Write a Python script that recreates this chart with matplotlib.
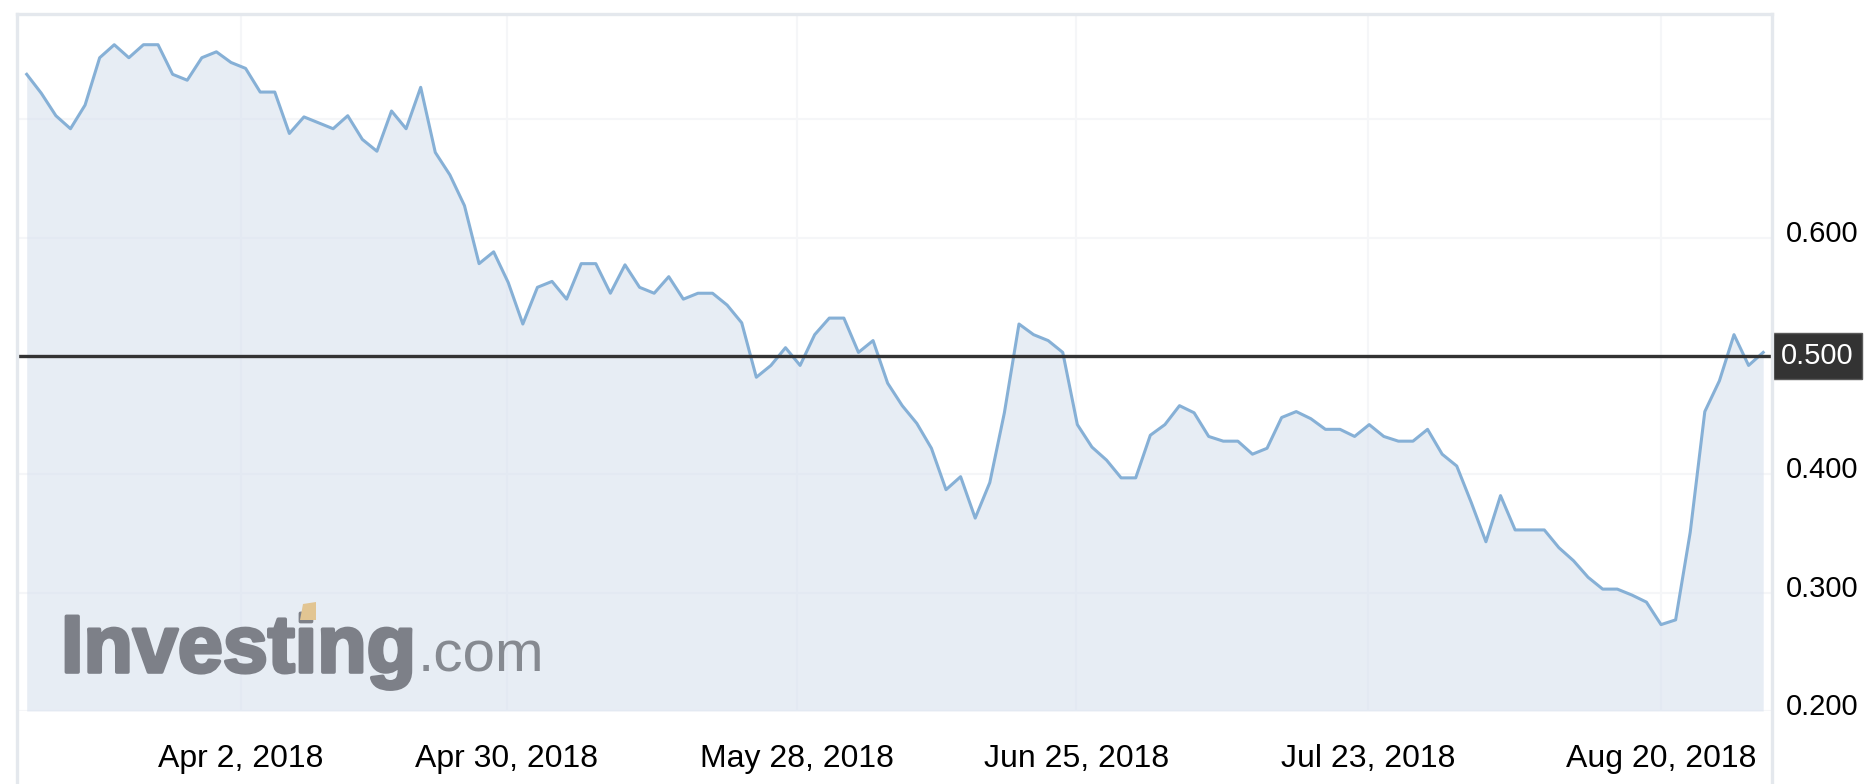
import numpy as np
import matplotlib
matplotlib.use("Agg")
import matplotlib.pyplot as plt
import matplotlib.transforms as mtransforms
import matplotlib.patheffects as pe
from matplotlib.lines import Line2D
from matplotlib.patches import Polygon

# ---------------- data ----------------
prices = [
    0.738, 0.722, 0.703, 0.692, 0.712, 0.752, 0.763, 0.752, 0.763, 0.763,
    0.738, 0.733, 0.752, 0.757, 0.748, 0.743, 0.723, 0.723, 0.688, 0.702,
    0.697, 0.692, 0.703, 0.683, 0.673, 0.707, 0.692, 0.727, 0.672, 0.653,
    0.627, 0.578, 0.588, 0.562, 0.527, 0.558, 0.563, 0.548, 0.578, 0.578,
    0.553, 0.577, 0.558, 0.553, 0.567, 0.548, 0.553, 0.553, 0.543, 0.528,
    0.482, 0.492, 0.507, 0.492, 0.518, 0.532, 0.532, 0.503, 0.513, 0.477,
    0.458, 0.443, 0.422, 0.387, 0.398, 0.363, 0.393, 0.452, 0.527, 0.518,
    0.513, 0.503, 0.442, 0.423, 0.412, 0.397, 0.397, 0.433, 0.442, 0.458,
    0.452, 0.432, 0.428, 0.428, 0.417, 0.422, 0.448, 0.453, 0.447, 0.438,
    0.438, 0.432, 0.442, 0.432, 0.428, 0.428, 0.438, 0.417, 0.407, 0.376,
    0.343, 0.382, 0.353, 0.353, 0.353, 0.338, 0.327, 0.313, 0.303, 0.303,
    0.298, 0.292, 0.273, 0.277, 0.351, 0.453, 0.479, 0.518, 0.492, 0.503,
]
x_tick_labels = ["Apr 2, 2018", "Apr 30, 2018", "May 28, 2018",
                 "Jun 25, 2018", "Jul 23, 2018", "Aug 20, 2018"]
# where each date falls on the trading-session axis
x_tick_index = [14.66, 32.9, 52.78, 71.93, 91.9, 112.0]
y_ticks = [0.2, 0.3, 0.4, 0.5, 0.6, 0.7]
y_label_values = [0.2, 0.3, 0.4, 0.6]
y_label_texts = ["0.200", "0.300", "0.400", "0.600"]
last_price = 0.500
last_price_label = "0.500"

# ---------------- figure ----------------
W, H, DPI = 1870, 784, 100
plt.rcParams["font.family"] = ["Liberation Sans", "DejaVu Sans"]
fig = plt.figure(figsize=(W / DPI, H / DPI), dpi=DPI)
fig.patch.set_facecolor("white")


def fx(px):
    return px / W


def fy(py):
    return 1 - py / H


ax_l, ax_r, ax_t, ax_b = 17, 1771.5, 14.3, 711
ax = fig.add_axes([fx(ax_l), fy(ax_b), (ax_r - ax_l) / W, (ax_b - ax_t) / H])
ax.set_facecolor("white")

x = np.arange(len(prices))
ymin = 0.2
ax.fill_between(x, prices, ymin, color="#d8e1ee", alpha=0.6, lw=0, zorder=1)
ax.plot(x, prices, color="#86b0d6", lw=2.2, zorder=2)
ax.axhline(last_price, color="#333333", lw=2.4, zorder=3)

ax.set_xlim(-0.665, 119.57)
ax.set_ylim(ymin, 0.7887)

ax.set_xticks(x_tick_index)
ax.set_xticklabels(x_tick_labels)
ax.set_yticks(y_ticks)
ax.set_yticklabels([])
ax.tick_params(axis="x", length=0, pad=23.5, labelsize=23, labelcolor="black")
ax.tick_params(axis="y", length=0)
ax.grid(True, color="#f5f6f8", lw=1.5)
ax.set_axisbelow(True)
for s in ax.spines.values():
    s.set_visible(False)

# right-hand price labels
trans = mtransforms.blended_transform_factory(ax.transAxes, ax.transData)
for v, txt in zip(y_label_values, y_label_texts):
    ax.annotate(txt, xy=(1, v), xycoords=trans, xytext=(14, 4),
                textcoords="offset pixels", ha="left", va="center",
                fontsize=21, color="black", annotation_clip=False)

# last price flag
ax.annotate(last_price_label, xy=(1, last_price), xycoords=trans,
            xytext=(9, 0), textcoords="offset pixels", ha="left", va="center",
            color="white", fontsize=21,
            bbox=dict(boxstyle="square,pad=0.3", fc="#333333", ec="#5a5a5a", lw=1),
            annotation_clip=False, zorder=5)

# outer frame
fcol = "#e4e8ed"
for xs, ys in [([ax_l, ax_r], [ax_t, ax_t]),
               ([ax_l, ax_l], [ax_t, 800]),
               ([ax_r, ax_r], [ax_t, 800])]:
    fig.add_artist(Line2D([fx(v) for v in xs], [fy(v) for v in ys],
                          transform=fig.transFigure, color=fcol, lw=2.4))

# watermark
logo_col = "#7d8088"
t1 = fig.text(fx(61), fy(672), "Investing", fontsize=60, fontweight="bold",
              color=logo_col, va="baseline", ha="left")
fig.canvas.draw()
r = fig.canvas.get_renderer()
bb = t1.get_window_extent(r)
t1.set_fontsize(60 * 355 / bb.width)
t1.set_path_effects([pe.withStroke(linewidth=2.6, foreground=logo_col)])
fig.canvas.draw()
bb = t1.get_window_extent(r)
fig.text(bb.x1 / W + fx(2), fy(672), ".com", fontsize=42, color="#868a91",
         va="baseline", ha="left")
fig.add_artist(Polygon([(fx(300), fy(620)), (fx(316), fy(620)),
                        (fx(316), fy(602)), (fx(303), fy(604))],
                       closed=True, transform=fig.transFigure,
                       color="#e2c592", lw=0, zorder=10))

fig.savefig("out.png", dpi=DPI)
